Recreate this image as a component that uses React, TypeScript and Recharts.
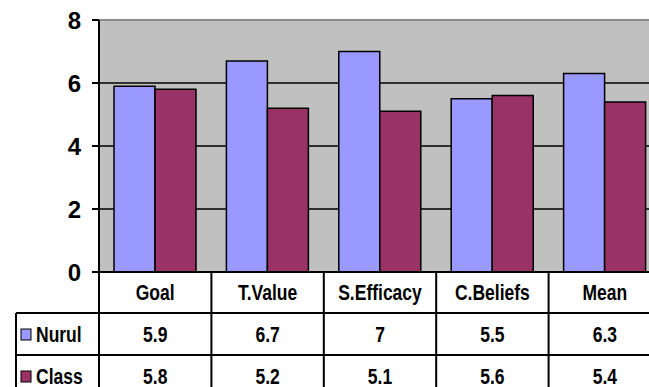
import { BarChart, Bar, XAxis, YAxis, CartesianGrid, ReferenceLine } from "recharts";

const categories = ["Goal", "T.Value", "S.Efficacy", "C.Beliefs", "Mean"];
const nurul = [5.9, 6.7, 7, 5.5, 6.3];
const classAvg = [5.8, 5.2, 5.1, 5.6, 5.4];
const yTicks = [0, 2, 4, 6, 8];

const series = [
  { key: "Nurul", color: "#9999FF", values: nurul },
  { key: "Class", color: "#993366", values: classAvg },
];

const data = categories.map((name, i) => ({
  name,
  Nurul: nurul[i],
  Class: classAvg[i],
}));

const W = 700;
const H = 400;
const LEFT = 99;
const TOP = 20;
const RIGHT = 39;
const TABLE_H = 128;
const ROW1 = 41;
const ROW2 = 83;
const BAND = (W - LEFT - RIGHT) / categories.length;
const FONT = "'Liberation Sans', Arial, sans-serif";
const AXIS_Y = H - TABLE_H;

const textStyle = {
  fontFamily: FONT,
  fontSize: 17.5,
  fontWeight: 700,
  fill: "#000",
};

// excel table text looks stretched vertically
function Cell({ x, y, anchor = "middle", children }: any) {
  return (
    <g transform={`translate(${x},${y}) scale(1,1.24)`}>
      <text x={0} y={0} textAnchor={anchor} dominantBaseline="central" style={textStyle}>
        {children}
      </text>
    </g>
  );
}

function TableTick(props: any) {
  const { x, y, payload } = props;
  const i = categories.indexOf(payload.value);
  const l = x - BAND / 2;
  const r = x + BAND / 2;
  return (
    <g>
      {i === 0 && (
        <line x1={l} y1={y} x2={l} y2={y + TABLE_H} stroke="#000" strokeWidth={2} />
      )}
      <line x1={r} y1={y} x2={r} y2={y + TABLE_H} stroke="#000" strokeWidth={2} />
      <line x1={l} y1={y + ROW1} x2={r} y2={y + ROW1} stroke="#000" strokeWidth={2} />
      <line x1={l} y1={y + ROW2} x2={r} y2={y + ROW2} stroke="#000" strokeWidth={2} />
      <Cell x={x} y={y + 20}>{payload.value}</Cell>
      {series.map((s, k) => (
        <Cell key={s.key} x={x} y={y + 62 + k * 42}>
          {s.values[i]}
        </Cell>
      ))}
    </g>
  );
}

function LegendColumn() {
  return (
    <svg
      width={649}
      height={387}
      style={{ position: "absolute", left: 0, top: 0, pointerEvents: "none" }}
    >
      <line x1={16} y1={AXIS_Y + ROW1} x2={16} y2={H} stroke="#000" strokeWidth={2} />
      <line x1={16} y1={AXIS_Y + ROW1} x2={LEFT} y2={AXIS_Y + ROW1} stroke="#000" strokeWidth={2} />
      <line x1={16} y1={AXIS_Y + ROW2} x2={LEFT} y2={AXIS_Y + ROW2} stroke="#000" strokeWidth={2} />
      {series.map((s, k) => (
        <g key={s.key}>
          <rect
            x={21}
            y={AXIS_Y + 57 + k * 42}
            width={10}
            height={11}
            fill={s.color}
            stroke="#000"
            strokeWidth={1}
          />
          <Cell x={36} y={AXIS_Y + 62 + k * 42} anchor="start">
            {s.key}
          </Cell>
        </g>
      ))}
    </svg>
  );
}

export default function App() {
  return (
    <div
      style={{
        position: "absolute",
        left: 0,
        top: 0,
        width: 649,
        height: 387,
        overflow: "hidden",
        background: "#fff",
      }}
    >
      <BarChart
        width={W}
        height={H}
        data={data}
        barGap={0}
        margin={{ top: TOP, right: RIGHT, left: 0, bottom: 0 }}
      >
        <CartesianGrid vertical={false} fill="#C0C0C0" stroke="#000" strokeWidth={1.5} />
        <XAxis
          dataKey="name"
          height={TABLE_H}
          axisLine={{ stroke: "#000", strokeWidth: 2 }}
          tickLine={false}
          tickSize={0}
          tickMargin={0}
          interval={0}
          tick={<TableTick />}
        />
        <YAxis
          width={LEFT}
          domain={[0, 8]}
          ticks={yTicks}
          interval={0}
          axisLine={{ stroke: "#000", strokeWidth: 2 }}
          tickLine={{ stroke: "#000", strokeWidth: 2 }}
          tickSize={7}
          tickMargin={11}
          tick={{ fontFamily: FONT, fontSize: 24, fontWeight: 700, fill: "#000" }}
        />
        <ReferenceLine y={8} stroke="#8c8c8c" strokeWidth={2} />
        {series.map((s) => (
          <Bar
            key={s.key}
            dataKey={s.key}
            fill={s.color}
            stroke="#000"
            strokeWidth={1.5}
            barSize={41}
            isAnimationActive={false}
          />
        ))}
      </BarChart>
      <LegendColumn />
    </div>
  );
}
